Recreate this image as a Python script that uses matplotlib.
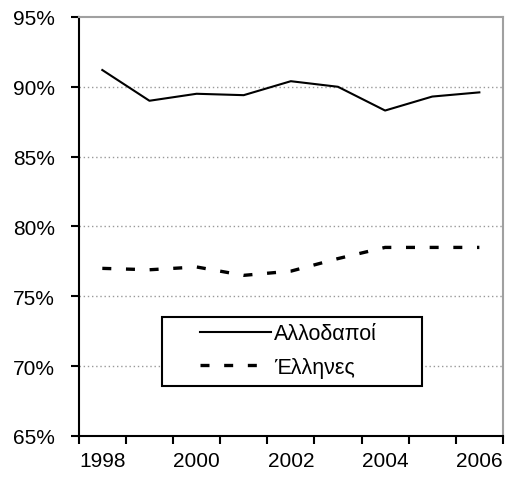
import numpy as np
import matplotlib
matplotlib.use('Agg')
import matplotlib.pyplot as plt
from matplotlib.patches import Rectangle

plt.rcParams['font.family'] = ['Liberation Sans', 'DejaVu Sans']

years = [1998, 1999, 2000, 2001, 2002, 2003, 2004, 2005, 2006]
allodapoi = [91.2, 89.0, 89.5, 89.4, 90.4, 90.0, 88.3, 89.3, 89.6]
ellines = [77.0, 76.9, 77.1, 76.5, 76.8, 77.7, 78.5, 78.5, 78.5]
yticks = [65, 70, 75, 80, 85, 90, 95]

fig = plt.figure(figsize=(5.08, 4.85), dpi=100)
ax = fig.add_axes([0.155, 0.099, 0.835, 0.864])

x = np.arange(len(years))
ax.plot(x, allodapoi, color='black', lw=1.5, label='Αλλοδαποί')
ax.plot(x, ellines, color='black', lw=2.4, dashes=(2.7, 4.4), label='Έλληνες')

ax.set_xlim(-0.5, len(years) - 0.5)
ax.set_ylim(65, 95)
ax.set_yticks(yticks)
ax.set_yticklabels(['%d%%' % v for v in yticks], fontsize=15)
for v in yticks[1:-1]:
    ax.axhline(v, color='#999999', lw=1, ls=(0, (1, 2)), zorder=0)

ax.set_xticks(np.arange(len(years) + 1) - 0.5)
ax.set_xticklabels([])
ax.set_xticks(x[::2], minor=True)
ax.set_xticklabels([str(y) for y in years[::2]], minor=True, fontsize=15)
ax.tick_params(axis='x', which='minor', length=0, pad=11)
ax.tick_params(axis='both', which='major', direction='out', length=6, width=1.5, color='black')
ax.tick_params(axis='y', pad=11)

for s in ['left', 'bottom']:
    ax.spines[s].set_linewidth(1.5)
for s in ['top', 'right']:
    ax.spines[s].set_color('#a0a0a0')
    ax.spines[s].set_linewidth(1.5)

# legend box drawn separately
ax.add_patch(Rectangle((0.196, 0.119), 0.613, 0.165, transform=ax.transAxes,
                       facecolor='white', edgecolor='black', lw=1.5, zorder=3))
leg = ax.legend(loc='center left', bbox_to_anchor=(0.286, 0.204), fontsize=15.5,
                handlelength=3.3, handletextpad=0.15, frameon=False,
                borderpad=0, labelspacing=0.6, borderaxespad=0)
leg.set_zorder(4)

fig.savefig('out.png', dpi=100)
